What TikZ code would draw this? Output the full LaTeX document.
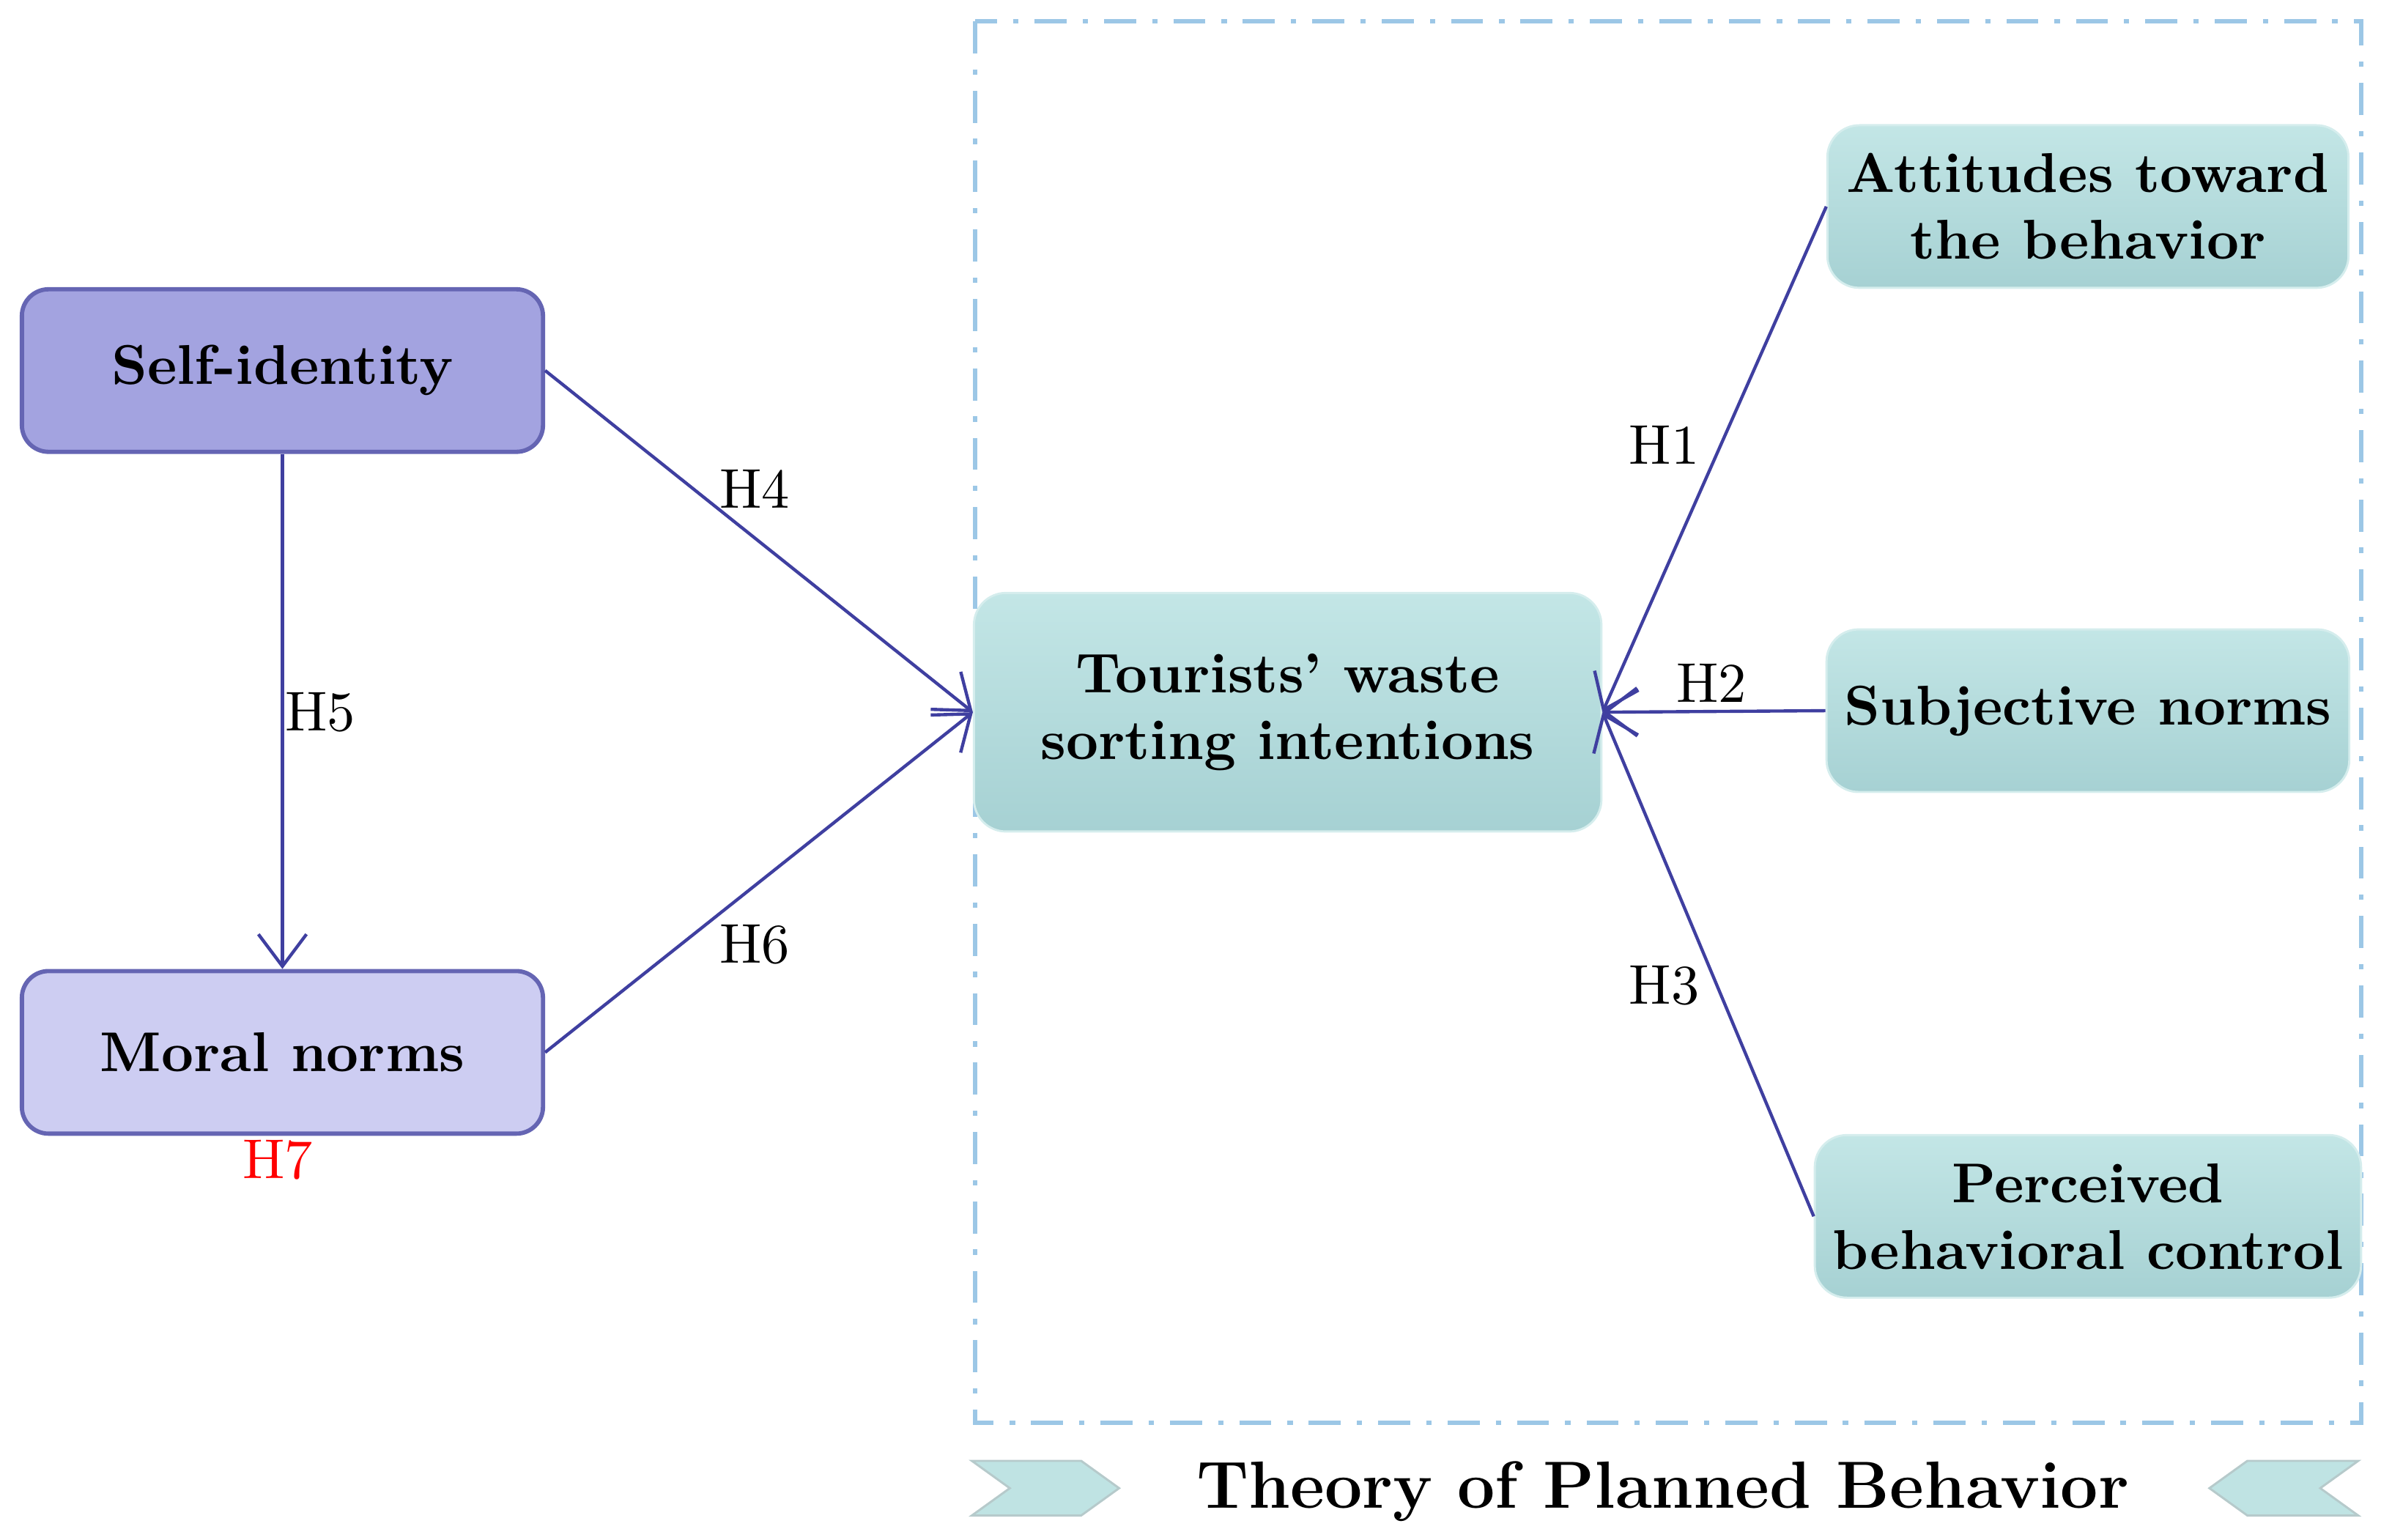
\documentclass[tikz,border=0pt]{standalone}
\usepackage{tikz}
\usetikzlibrary{arrows.meta}
\usetikzlibrary{positioning}
\definecolor{arrowblue}{HTML}{3F3FA0}
\definecolor{selfcol}{HTML}{A3A3E0}
\definecolor{moralcol}{HTML}{CDCDF2}
\definecolor{tealtop}{HTML}{C3E6E6}
\definecolor{tealbot}{HTML}{A6D1D3}
\definecolor{dashblue}{HTML}{9CC7E6}
\begin{document}
\begin{tikzpicture}[x=0.01cm, y=-0.01cm, align=center,
	font=\fontsize{10.5}{12.5}\selectfont,
	purple node/.style={rectangle, rounded corners=5pt, draw=arrowblue!80, thick, minimum width=3.43cm, minimum height=1.07cm, font=\fontsize{10.5}{12.5}\selectfont\bfseries},
	teal node/.style={rectangle, rounded corners=6pt, top color=tealtop, bottom color=tealbot, draw=tealtop!70!white, minimum width=3.43cm, minimum height=1.07cm, font=\fontsize{10.5}{12.5}\selectfont\bfseries},
	link/.style={draw=arrowblue, semithick, -{Straight Barb[length=6pt,width=9pt]}},
	hlabel/.style={inner sep=1pt},
]
\useasboundingbox (0,0) rectangle (1568,1014);
% frame of the theory
\draw [dashblue, thick, dash pattern=on 6pt off 3pt on 1pt off 3pt] (642,14) rectangle (1555,937);
\fill [tealtop!85!tealbot, draw=tealbot!80!black!60] (640,962) -- (712,962) -- (737,980) -- (712,998) -- (640,998) -- (665,980) -- cycle;
\fill [tealtop!85!tealbot, draw=tealbot!80!black!60] (1553,962) -- (1480,962) -- (1455,980) -- (1480,998) -- (1553,998) -- (1528,980) -- cycle;
\node (tpb) at (1095,982) {\fontsize{12.5}{15}\selectfont\bfseries Theory of Planned Behavior};
% nodes
\node [purple node, fill=selfcol] at (186,244) (self) {Self-identity};
\node [purple node, fill=moralcol] at (186,693) (moral) {Moral norms};
\node [teal node, minimum width=4.13cm, minimum height=1.57cm] at (848,469) (intent) {Tourists' waste\\sorting intentions};
\node [teal node] at (1375,136) (att) {Attitudes toward\\the behavior};
\node [teal node] at (1375,468) (subj) {Subjective norms};
\node [teal node] at (1375,801) (pbc) {Perceived\\behavioral control};
%
\draw [link] (self.south) -- (moral.north);
\draw [link] (self.east) -- (intent.west);
\draw [link] (moral.east) -- (intent.west);
\draw [link] (att.west) -- (intent.east);
\draw [link] (subj.west) -- (intent.east);
\draw [link] (pbc.west) -- (intent.east);
%
\node [hlabel] at (497,322) (h4) {H4};
\node [hlabel] at (211,469) (h5) {H5};
\node [hlabel] at (497,622) (h6) {H6};
\node [hlabel] at (1096,293) (h1) {H1};
\node [hlabel] at (1127,450) (h2) {H2};
\node [hlabel] at (1096,649) (h3) {H3};
\node [hlabel, text=red] at (183,764) (h7) {H7};
\end{tikzpicture}
\end{document}
